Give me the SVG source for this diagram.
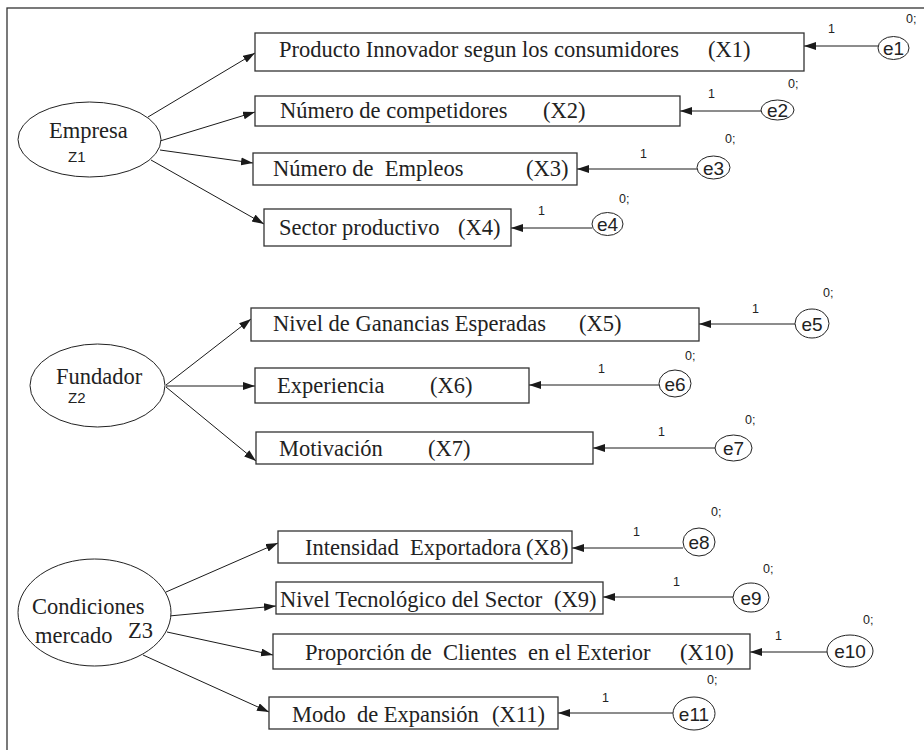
<svg xmlns="http://www.w3.org/2000/svg" width="924" height="750" viewBox="0 0 924 750">
<defs>
<marker id="ah" markerWidth="13" markerHeight="9" refX="12" refY="4" orient="auto" markerUnits="userSpaceOnUse">
<path d="M0,0 L12,4 L0,8 z" fill="#1a1a1a"/>
</marker>
<style>
.box{fill:#fff;stroke:#333;stroke-width:1.3}
.lat{fill:#fff;stroke:#222;stroke-width:1}
.err{fill:#fff;stroke:#222;stroke-width:1}
.t{font-family:"Liberation Serif","Times New Roman",serif;font-size:22.5px;fill:#222;white-space:pre}
.s{font-family:"Liberation Sans",Arial,sans-serif;fill:#222}
.e{font-size:19px}
.n{font-size:12.5px}
.z{font-size:15px}
.c line{stroke:#1a1a1a;stroke-width:1;marker-end:url(#ah)}
</style>
</defs>
<rect width="924" height="750" fill="#fff"/>
<rect x="7" y="8" width="940" height="760" fill="none" stroke="#333" stroke-width="1.3"/>

<g id="connectors" class="c">
<line x1="148" y1="117" x2="255" y2="53"/>
<line x1="160" y1="141" x2="255" y2="112"/>
<line x1="160" y1="150" x2="253" y2="163"/>
<line x1="151" y1="160" x2="264" y2="224"/>
<line x1="878" y1="46" x2="804" y2="46"/>
<line x1="761" y1="111" x2="680" y2="111"/>
<line x1="697" y1="169" x2="577" y2="169"/>
<line x1="592" y1="228" x2="511" y2="228"/>
<line x1="166" y1="385" x2="251" y2="319"/>
<line x1="166" y1="386" x2="255" y2="386"/>
<line x1="166" y1="387" x2="256" y2="461"/>
<line x1="795" y1="324" x2="699" y2="324"/>
<line x1="659" y1="385" x2="529" y2="385"/>
<line x1="715" y1="448" x2="593" y2="448"/>
<line x1="166" y1="592" x2="278" y2="543"/>
<line x1="169" y1="616" x2="276" y2="606"/>
<line x1="167" y1="632" x2="273" y2="655"/>
<line x1="143" y1="655" x2="269" y2="712"/>
<line x1="683" y1="548" x2="572" y2="548"/>
<line x1="733" y1="597" x2="603" y2="597"/>
<line x1="827" y1="652" x2="750" y2="652"/>
<line x1="673" y1="713" x2="558" y2="713"/>
</g>

<g id="Z1">
<ellipse class="lat" cx="89.5" cy="139.5" rx="71.5" ry="37.5"/>
<text class="t" x="49" y="138">Empresa</text>
<text class="s z" x="68" y="162">Z1</text>
</g>
<g id="Z2">
<ellipse class="lat" cx="97.5" cy="385.5" rx="67.5" ry="41.5"/>
<text class="t" x="56" y="384">Fundador</text>
<text class="s z" x="68" y="403">Z2</text>
</g>
<g id="Z3">
<ellipse class="lat" cx="94.5" cy="612.5" rx="76.5" ry="53.5"/>
<text class="t" x="32" y="614">Condiciones</text>
<text class="t" x="35" y="643">mercado</text>
<text class="t" x="128" y="638">Z3</text>
</g>

<g id="X1">
<rect class="box" x="255" y="33" width="549" height="38"/>
<text class="t" y="57"><tspan x="279">Producto Innovador segun los consumidores</tspan><tspan x="708">(X1)</tspan></text>
</g>
<g id="X2">
<rect class="box" x="255" y="96" width="425" height="30"/>
<text class="t" y="118"><tspan x="280">Número de competidores</tspan><tspan x="543">(X2)</tspan></text>
</g>
<g id="X3">
<rect class="box" x="253" y="153" width="324" height="32"/>
<text class="t" y="176" xml:space="preserve"><tspan x="273">Número de  Empleos</tspan><tspan x="526">(X3)</tspan></text>
</g>
<g id="X4">
<rect class="box" x="264" y="209" width="247" height="37"/>
<text class="t" y="235"><tspan x="279">Sector productivo</tspan><tspan x="458">(X4)</tspan></text>
</g>
<g id="X5">
<rect class="box" x="251" y="308" width="448" height="33"/>
<text class="t" y="331"><tspan x="273">Nivel de Ganancias Esperadas</tspan><tspan x="579">(X5)</tspan></text>
</g>
<g id="X6">
<rect class="box" x="255" y="368" width="274" height="35"/>
<text class="t" y="393"><tspan x="277">Experiencia</tspan><tspan x="430">(X6)</tspan></text>
</g>
<g id="X7">
<rect class="box" x="256" y="432" width="337" height="32"/>
<text class="t" y="456"><tspan x="279">Motivación</tspan><tspan x="428">(X7)</tspan></text>
</g>
<g id="X8">
<rect class="box" x="278" y="531" width="294" height="32"/>
<text class="t" y="555" xml:space="preserve"><tspan x="305">Intensidad  Exportadora</tspan><tspan x="526">(X8)</tspan></text>
</g>
<g id="X9">
<rect class="box" x="276" y="582" width="327" height="32"/>
<text class="t" y="607"><tspan x="280">Nivel Tecnológico del Sector</tspan><tspan x="554">(X9)</tspan></text>
</g>
<g id="X10">
<rect class="box" x="273" y="634" width="477" height="35"/>
<text class="t" y="660" xml:space="preserve"><tspan x="305">Proporción de  Clientes  en el Exterior</tspan><tspan x="680">(X10)</tspan></text>
</g>
<g id="X11">
<rect class="box" x="269" y="697" width="289" height="32"/>
<text class="t" y="722" xml:space="preserve"><tspan x="292">Modo  de Expansión</tspan><tspan x="492">(X11)</tspan></text>
</g>

<g id="e1">
<ellipse class="err" cx="893.5" cy="48" rx="15.5" ry="11.5"/>
<text class="s e" x="893.5" y="55" text-anchor="middle">e1</text>
<text class="s n" x="828" y="33">1</text>
<text class="s n" x="906" y="23">0;</text>
</g>
<g id="e2">
<ellipse class="err" cx="777.5" cy="110" rx="16.5" ry="10"/>
<text class="s e" x="777.5" y="117" text-anchor="middle">e2</text>
<text class="s n" x="708" y="98">1</text>
<text class="s n" x="788" y="88">0;</text>
</g>
<g id="e3">
<ellipse class="err" cx="713.5" cy="167.5" rx="16.5" ry="11.5"/>
<text class="s e" x="713.5" y="174.5" text-anchor="middle">e3</text>
<text class="s n" x="640" y="158">1</text>
<text class="s n" x="725" y="143">0;</text>
</g>
<g id="e4">
<ellipse class="err" cx="607.5" cy="224" rx="15.5" ry="11.5"/>
<text class="s e" x="607.5" y="231" text-anchor="middle">e4</text>
<text class="s n" x="538" y="215">1</text>
<text class="s n" x="619" y="203">0;</text>
</g>
<g id="e5">
<ellipse class="err" cx="812" cy="323.5" rx="17" ry="14.5"/>
<text class="s e" x="812" y="330.5" text-anchor="middle">e5</text>
<text class="s n" x="752" y="313">1</text>
<text class="s n" x="823" y="297">0;</text>
</g>
<g id="e6">
<ellipse class="err" cx="675" cy="383.5" rx="16" ry="13.5"/>
<text class="s e" x="675" y="390.5" text-anchor="middle">e6</text>
<text class="s n" x="598" y="373">1</text>
<text class="s n" x="685" y="360">0;</text>
</g>
<g id="e7">
<ellipse class="err" cx="733.5" cy="448" rx="18.5" ry="13"/>
<text class="s e" x="733.5" y="455" text-anchor="middle">e7</text>
<text class="s n" x="658" y="436">1</text>
<text class="s n" x="745" y="424">0;</text>
</g>
<g id="e8">
<ellipse class="err" cx="699" cy="542" rx="16" ry="14"/>
<text class="s e" x="699" y="549" text-anchor="middle">e8</text>
<text class="s n" x="633" y="536">1</text>
<text class="s n" x="711" y="516">0;</text>
</g>
<g id="e9">
<ellipse class="err" cx="751" cy="597.5" rx="18" ry="14.5"/>
<text class="s e" x="751" y="604.5" text-anchor="middle">e9</text>
<text class="s n" x="673" y="586">1</text>
<text class="s n" x="763" y="573">0;</text>
</g>
<g id="e10">
<ellipse class="err" cx="850" cy="651" rx="23" ry="16"/>
<text class="s e" x="850" y="658" text-anchor="middle">e10</text>
<text class="s n" x="775" y="640">1</text>
<text class="s n" x="863" y="624">0;</text>
</g>
<g id="e11">
<ellipse class="err" cx="694" cy="713.5" rx="21" ry="16.5"/>
<text class="s e" x="694" y="720.5" text-anchor="middle">e11</text>
<text class="s n" x="602" y="702">1</text>
<text class="s n" x="707" y="684">0;</text>
</g>
</svg>
